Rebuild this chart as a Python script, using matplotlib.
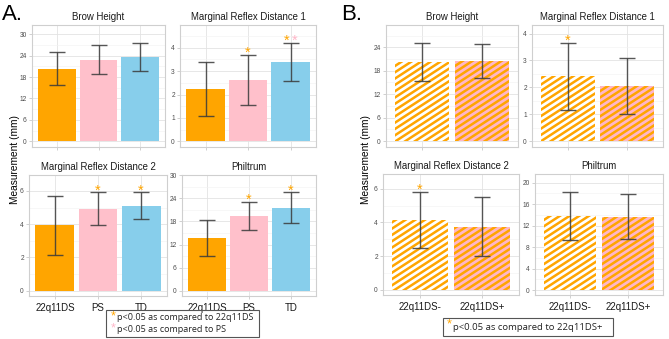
import numpy as np
import matplotlib
matplotlib.use("Agg")
import matplotlib.pyplot as plt
from matplotlib.patches import Rectangle
from matplotlib.lines import Line2D
from matplotlib.transforms import IdentityTransform, offset_copy
from matplotlib.ticker import MultipleLocator

plt.rcParams['font.family'] = ['Liberation Sans', 'DejaVu Sans']

# ---- datos panel A ----
grupos_a = ['22q11DS', 'PS', 'TD']
colores_a = ['#FFA500', '#FFC0CB', '#87CEEB']

brow_a = [20.4, 22.9, 23.5]
brow_a_lo = [15.9, 18.9, 19.6]
brow_a_hi = [24.9, 27.0, 27.6]

mrd1_a = [2.23, 2.61, 3.37]
mrd1_a_lo = [1.10, 1.56, 2.56]
mrd1_a_hi = [3.39, 3.71, 4.21]

mrd2_a = [3.93, 4.90, 5.10]
mrd2_a_lo = [2.17, 3.93, 4.32]
mrd2_a_hi = [5.68, 5.92, 5.92]

phil_a = [13.7, 19.4, 21.5]
phil_a_lo = [9.1, 15.7, 17.7]
phil_a_hi = [18.3, 23.05, 25.6]

# ---- datos panel B ----
grupos_b = ['22q11DS-', '22q11DS+']
rayas_b = ['white', '#FFB6C8']

brow_b = [20.3, 20.5]
brow_b_lo = [15.5, 16.2]
brow_b_hi = [25.2, 24.8]

mrd1_b = [2.42, 2.06]
mrd1_b_lo = [1.17, 1.01]
mrd1_b_hi = [3.66, 3.08]

mrd2_b = [4.12, 3.75]
mrd2_b_lo = [2.47, 1.99]
mrd2_b_hi = [5.80, 5.49]

phil_b = [13.73, 13.66]
phil_b_lo = [9.25, 9.44]
phil_b_hi = [18.26, 17.95]

# asteriscos: (indice de barra, colores)
sig_a = {
    'mrd1': [(1, ['#FFA500']), (2, ['#FFA500', '#FFB6C8'])],
    'mrd2': [(1, ['#FFA500']), (2, ['#FFA500'])],
    'phil': [(1, ['#FFA500']), (2, ['#FFA500'])],
}
sig_b = {
    'mrd1': [(0, ['#FFA500'])],
    'mrd2': [(0, ['#FFA500'])],
}

W, H = 669, 339
fig = plt.figure(figsize=(W / 100, H / 100), dpi=100)


def caja(x0, y0, x1, y1):
    # caja en pixeles (origen arriba a la izquierda)
    return fig.add_axes([x0 / W, (H - y1) / H, (x1 - x0) / W, (y1 - y0) / H])


def estilo(ax, titulo, ylim, paso, etiquetas, xlim):
    ax.set_xlim(*xlim)
    ax.set_ylim(*ylim)
    ax.yaxis.set_major_locator(MultipleLocator(paso))
    ax.yaxis.set_minor_locator(MultipleLocator(paso / 2))
    ax.grid(which='major', color='#E3E3E3', lw=0.6)
    ax.grid(which='minor', axis='y', color='#F2F2F2', lw=0.4)
    ax.set_axisbelow(True)
    for s in ax.spines.values():
        s.set_color('#CFCFCF')
        s.set_linewidth(0.8)
    ax.tick_params(which='major', length=2.2, width=0.5, color='#BDBDBD',
                   labelsize=4.8, labelcolor='#4D4D4D', pad=1.5)
    ax.tick_params(which='minor', length=0)
    ax.tick_params(axis='x', labelsize=7, labelcolor='#1A1A1A', pad=2.5)
    if not etiquetas:
        ax.tick_params(axis='x', labelbottom=False)
    ax.set_title(titulo, fontsize=6.9, pad=3.5, color='#1A1A1A')


def barras(ax, vals, lo, hi, colores):
    x = np.arange(1, len(vals) + 1)
    bars = ax.bar(x, vals, width=0.9, color=colores, zorder=2)
    v = np.array(vals)
    ax.errorbar(x, v, yerr=[v - np.array(lo), np.array(hi) - v], fmt='none',
                ecolor='#3A3A3A', elinewidth=1.0, capsize=6, capthick=1.0,
                alpha=0.85, zorder=3)
    return x, bars


def asteriscos(ax, x, hi, sig):
    for i, cols in sig:
        n = len(cols)
        for k, c in enumerate(cols):
            dx = (k - (n - 1) / 2) * 6
            tr = offset_copy(ax.transData, fig=fig, x=dx, y=-1.5, units='points')
            ax.text(x[i], hi[i], '*', color=c, fontsize=10.5, ha='center',
                    va='baseline', transform=tr, zorder=4)


def rayas(ax, bars, colores):
    # franjas diagonales recortadas a cada barra
    fig.canvas.draw()
    for b, c in zip(bars, colores):
        bb = b.get_window_extent()
        per = 6.3
        t = np.tan(np.deg2rad(33))
        ancho = bb.x1 - bb.x0
        k = bb.y0 - ancho * t - per
        while k < bb.y1 + per:
            ln = Line2D([bb.x0, bb.x1], [k, k + ancho * t], color=c, lw=2.0,
                        transform=IdentityTransform(), zorder=2.5)
            ax.add_line(ln)
            ln.set_clip_path(b)
            k += per


# ---------- Panel A ----------
xa = (0.4, 3.6)
ax = caja(32, 25, 165, 147)
x, _ = barras(ax, brow_a, brow_a_lo, brow_a_hi, colores_a)
estilo(ax, 'Brow Height', (-1.6, 32.6), 6, False, xa)
ax.set_xticks(x, grupos_a)

ax = caja(180, 25, 316, 147)
x, _ = barras(ax, mrd1_a, mrd1_a_lo, mrd1_a_hi, colores_a)
estilo(ax, 'Marginal Reflex Distance 1', (-0.24, 4.97), 1, False, xa)
ax.set_xticks(x, grupos_a)
asteriscos(ax, x, mrd1_a_hi, sig_a['mrd1'])

ax = caja(29, 175, 167, 296)
x, _ = barras(ax, mrd2_a, mrd2_a_lo, mrd2_a_hi, colores_a)
estilo(ax, 'Marginal Reflex Distance 2', (-0.32, 6.96), 2, True, xa)
ax.set_xticks(x, grupos_a)
asteriscos(ax, x, mrd2_a_hi, sig_a['mrd2'])

ax = caja(182, 175, 316, 296)
x, _ = barras(ax, phil_a, phil_a_lo, phil_a_hi, colores_a)
estilo(ax, 'Philtrum', (-1.4, 30.1), 6, True, xa)
ax.set_xticks(x, grupos_a)
asteriscos(ax, x, phil_a_hi, sig_a['phil'])

# ---------- Panel B ----------
xb = (0.4, 2.6)
paneles_b = [
    ((386, 25, 518, 147), brow_b, brow_b_lo, brow_b_hi, 'Brow Height', (-1.5, 29.7), 6, False, None),
    ((532, 25, 663, 147), mrd1_b, mrd1_b_lo, mrd1_b_hi, 'Marginal Reflex Distance 1', (-0.22, 4.32), 1, False, 'mrd1'),
    ((383, 174, 519, 295), mrd2_b, mrd2_b_lo, mrd2_b_hi, 'Marginal Reflex Distance 2', (-0.3, 6.87), 2, True, 'mrd2'),
    ((535, 174, 663, 295), phil_b, phil_b_lo, phil_b_hi, 'Philtrum', (-0.93, 21.6), 4, True, None),
]
for pos, v, lo, hi, tit, yl, paso, lab, clave in paneles_b:
    ax = caja(*pos)
    x, bars = barras(ax, v, lo, hi, ['#FFA500', '#FFA500'])
    estilo(ax, tit, yl, paso, lab, xb)
    ax.set_xticks(x, grupos_b)
    if clave:
        asteriscos(ax, x, hi, sig_b[clave])
    rayas(ax, bars, rayas_b)

# etiquetas generales
fig.text(2 / W, 1 - 14 / H, 'A.', fontsize=16, va='center', ha='left')
fig.text(341 / W, 1 - 14 / H, 'B.', fontsize=16, va='center', ha='left')
fig.text(15 / W, 1 - 160 / H, 'Measurement (mm)', rotation=90, fontsize=7.3,
         va='center', ha='center')
fig.text(366 / W, 1 - 160 / H, 'Measurement (mm)', rotation=90, fontsize=7.3,
         va='center', ha='center')

# leyendas
fig.add_artist(Rectangle((106 / W, 1 - 337 / H), 153 / W, 27 / H,
                         transform=fig.transFigure, fill=False,
                         ec='#555555', lw=0.8))
fig.text(111 / W, 1 - 316 / H, '*', color='#FFA500', fontsize=9, va='center')
fig.text(117 / W, 1 - 317.5 / H, 'p<0.05 as compared to 22q11DS', fontsize=6.5,
         va='center', family=['Open Sans', 'DejaVu Sans'], color='#222222')
fig.text(111 / W, 1 - 328 / H, '*', color='#FFB6C8', fontsize=9, va='center')
fig.text(117 / W, 1 - 329.5 / H, 'p<0.05 as compared to PS', fontsize=6.5,
         va='center', family=['Open Sans', 'DejaVu Sans'], color='#222222')

fig.add_artist(Rectangle((443 / W, 1 - 336 / H), 170 / W, 18 / H,
                         transform=fig.transFigure, fill=False,
                         ec='#555555', lw=0.8))
fig.text(447 / W, 1 - 324 / H, '*', color='#FFA500', fontsize=9, va='center')
fig.text(453 / W, 1 - 327 / H, 'p<0.05 as compared to 22q11DS+', fontsize=6.8,
         va='center', family=['Open Sans', 'DejaVu Sans'], color='#222222')

fig.savefig('out.png', dpi=100)
